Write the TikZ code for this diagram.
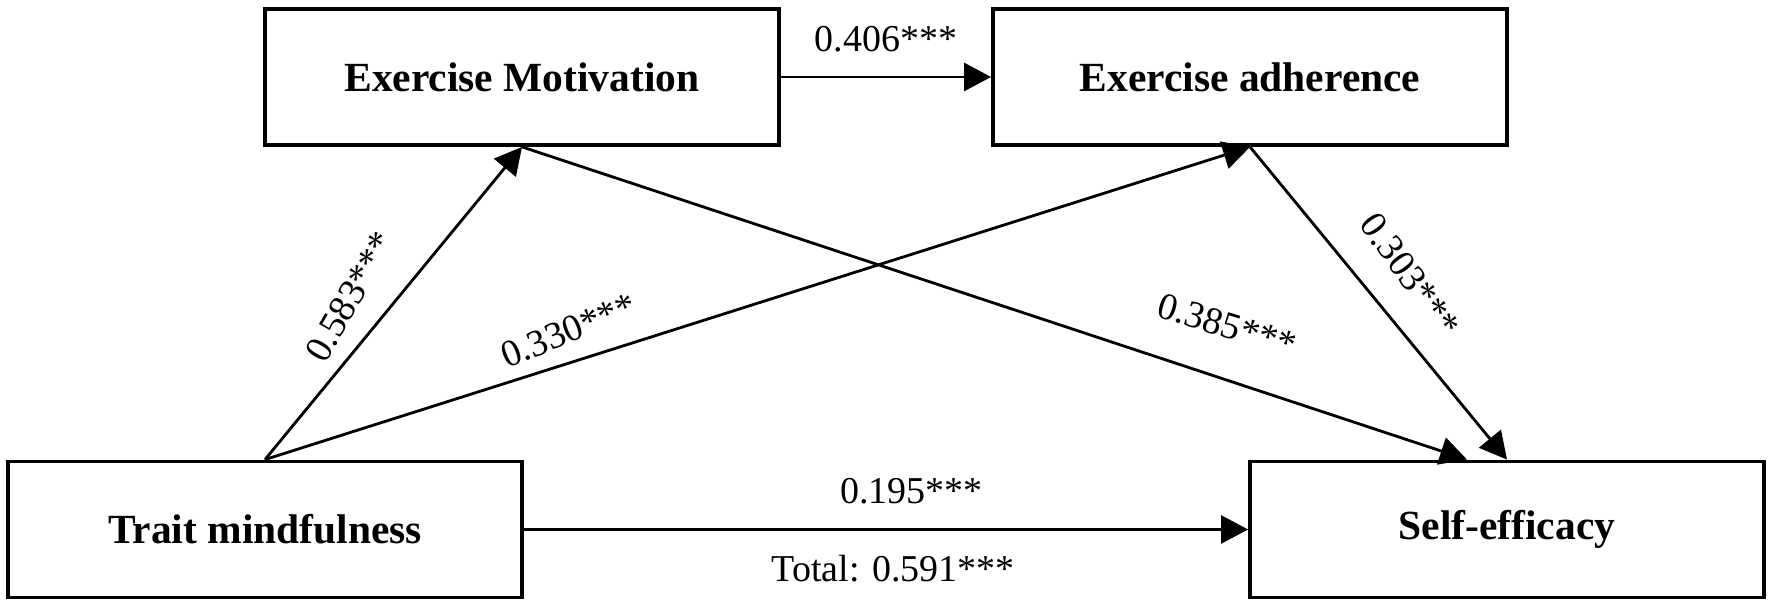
\documentclass[tikz,border=0pt]{standalone}
\usepackage{fontspec}
\setmainfont{Liberation Serif}
\usetikzlibrary{arrows.meta,calc}

\begin{document}
\begin{tikzpicture}[
    var/.style={draw, line width=1.1pt, minimum width=5.14cm, minimum height=1.36cm,
      font=\fontsize{11.8}{14}\selectfont\bfseries},
    link/.style={line width=0.8pt, -{Triangle[length=0.27cm,width=0.28cm]}},
    coef/.style={font=\fontsize{10.8}{13}\selectfont, inner xsep=1pt, inner ysep=6.8pt}
  ]
  \path[use as bounding box] (0,0) rectangle (17.72,6.07);

  \node[var] (EM) at (5.22,5.30) {Exercise Motivation};
  \node[var] (EA) at (12.50,5.30) {Exercise adherence};
  \node[var] (TM) at (2.65,0.775) {Trait mindfulness};
  \node[var] (SE) at (15.07,0.775) {Self-efficacy};

  \draw[link] (EM.east) -- node[coef, anchor=south] {0.406***} (EA.west);
  \draw[link] (TM.east) -- node[coef, pos=0.535, anchor=south] {0.195***}
    node[coef, pos=0.51, anchor=north] {Total: 0.591***} (SE.west);
  \draw[link] (TM.north) -- node[coef, pos=0.46, rotate=60, anchor=south] {0.583***} (EM.south);
  \draw[link] (TM.north) -- node[coef, pos=0.32, rotate=22, anchor=south, inner ysep=4.8pt] {0.330***} (EA.south);
  \draw[link] (EM.south) -- node[coef, pos=0.73, rotate=-17, anchor=south, inner ysep=10.8pt] {0.385***} ($(SE.north)+(-0.40,0)$);
  \draw[link] (EA.south) -- node[coef, pos=0.49, rotate=-54, anchor=south, inner ysep=8pt] {0.303***} (SE.north);

\end{tikzpicture}
\end{document}
